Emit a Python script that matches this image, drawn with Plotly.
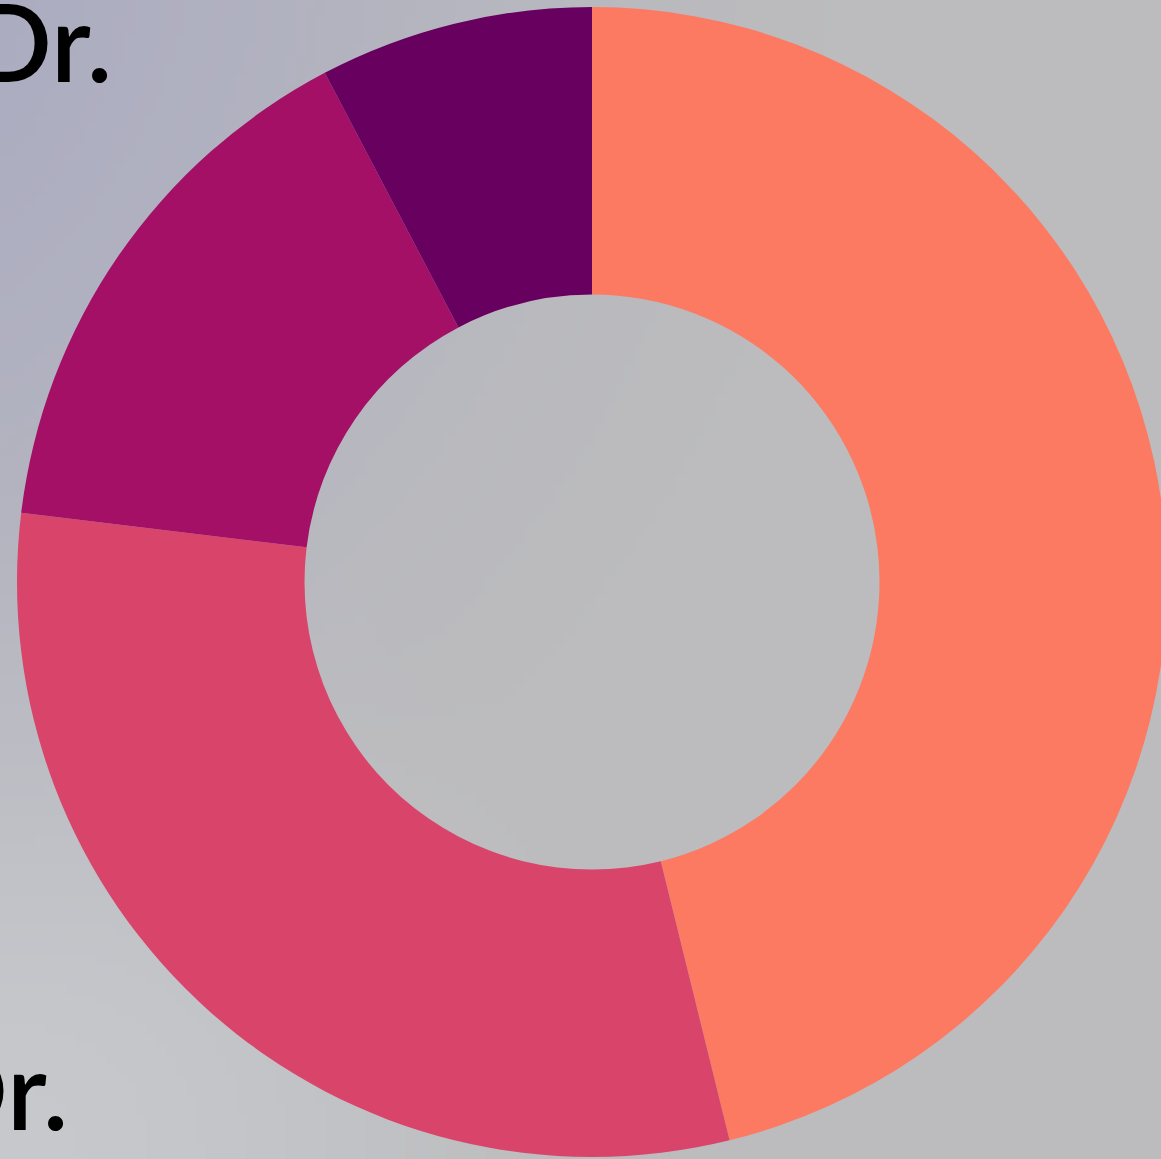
import base64
import struct
import zlib
import plotly.graph_objects as go

# ---- data ----
labels = ["Mr.", "Mrs.", "Ms.", "Dr."]
values = [6, 4, 2, 1]
colors = ["#FC7A62", "#D9456A", "#A31066", "#680060"]
label_texts = ["Dr.", "Dr."]

# ---- figure size (page is clipped to 1161x1159) ----
W, H = 1170, 1160


def make_png(w, h, fn):
    rows = []
    for j in range(h):
        row = bytearray([0])
        for i in range(w):
            row.extend(fn(i, j))
        rows.append(bytes(row))
    raw = b"".join(rows)

    def chunk(tag, data):
        c = struct.pack(">I", len(data)) + tag + data
        return c + struct.pack(">I", zlib.crc32(tag + data) & 0xFFFFFFFF)

    png = b"\x89PNG\r\n\x1a\n"
    png += chunk(b"IHDR", struct.pack(">IIBBBBB", w, h, 8, 2, 0, 0, 0))
    png += chunk(b"IDAT", zlib.compress(raw, 9))
    png += chunk(b"IEND", b"")
    return png


GW, GH = 117, 116
SX, SY = W / GW, H / GH
base = (188, 188, 190)


def smooth(t):
    t = max(0.0, min(1.0, t))
    return t * t * (3 - 2 * t)


def bg(i, j):
    x = (i + 0.5) * SX
    y = (j + 0.5) * SY
    d1 = ((x + 300) ** 2 + (y + 100) ** 2) ** 0.5
    w1 = smooth(1 - d1 / 1250)
    d2 = (x ** 2 + (y - 1160) ** 2) ** 0.5
    w2 = smooth(1 - d2 / 700)
    tl = (-20, -19, 3)
    bl = (10, 12, 14)
    return bytes(
        max(0, min(255, int(round(base[k] + w1 * tl[k] + w2 * bl[k])))) for k in range(3)
    )


png_uri = "data:image/png;base64," + base64.b64encode(make_png(GW, GH, bg)).decode()

fig = go.Figure(
    go.Pie(
        labels=labels,
        values=values,
        marker=dict(colors=colors, line=dict(width=0)),
        hole=0.5,
        sort=False,
        direction="clockwise",
        rotation=0,
        textinfo="none",
        showlegend=False,
        domain=dict(x=[17 / W, 1167 / W], y=[3 / H, 1153 / H]),
    )
)

fig.add_layout_image(
    dict(
        source=png_uri,
        xref="paper",
        yref="paper",
        x=0,
        y=1,
        sizex=1,
        sizey=1,
        xanchor="left",
        yanchor="top",
        sizing="stretch",
        layer="below",
    )
)

font = dict(family="Lato", size=108, color="#000000", weight=600)
fig.add_annotation(
    text=label_texts[0], xref="paper", yref="paper",
    x=114 / W, y=1 - 40 / H, xanchor="right", yanchor="middle",
    showarrow=False, font=font,
)
fig.add_annotation(
    text=label_texts[1], xref="paper", yref="paper",
    x=70 / W, y=1 - 1088 / H, xanchor="right", yanchor="middle",
    showarrow=False, font=font,
)

fig.update_layout(
    width=W,
    height=H,
    margin=dict(l=0, r=0, t=0, b=0),
    paper_bgcolor="rgb(188,188,190)",
    plot_bgcolor="rgba(0,0,0,0)",
    showlegend=False,
)

fig.write_html(
    "out.html",
    config={"displayModeBar": False},
    post_script="document.body.style.margin='0';document.body.style.overflow='hidden';",
)
